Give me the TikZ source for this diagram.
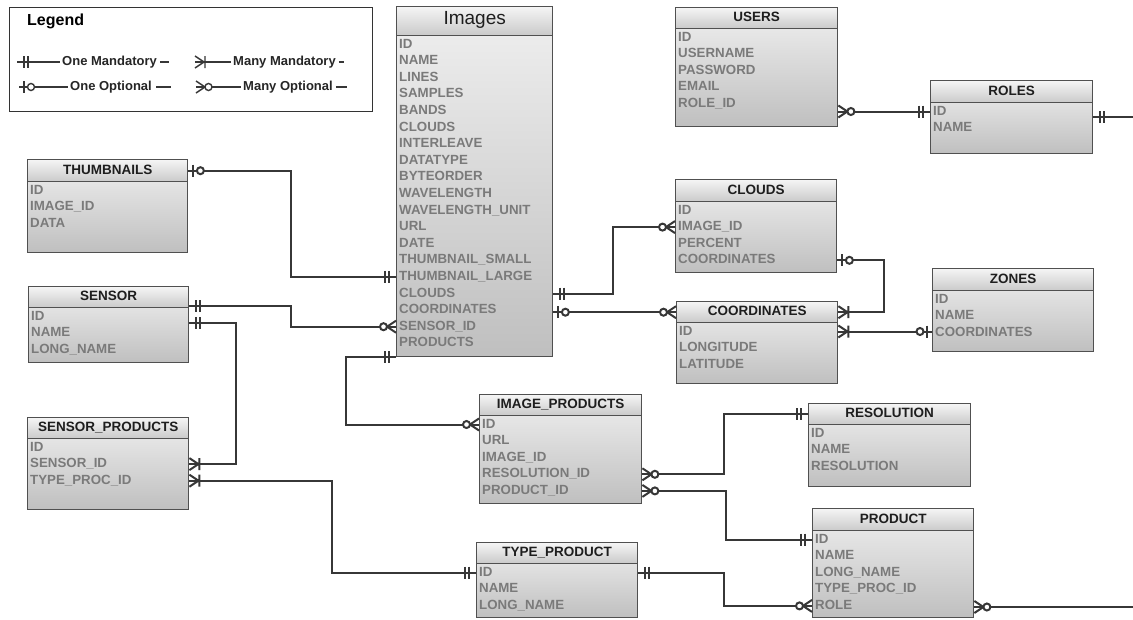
\documentclass[tikz,border=0pt]{standalone}
\usepackage{fontspec}
\setmainfont{Liberation Sans}
\usetikzlibrary{calc}
\definecolor{linec}{RGB}{55,55,55}
\definecolor{borderc}{RGB}{80,80,80}
\definecolor{fieldc}{RGB}{122,122,122}
\definecolor{headc}{RGB}{30,30,30}
\tikzset{
 conn/.style={draw=linec, line width=2pt},
 tbody/.style={draw=borderc, line width=1.4pt, top color=white!94!black, bottom color=white!75!black, inner sep=0pt},
 thead/.style={draw=borderc, line width=1.4pt, top color=white!96!black, bottom color=white!79!black, inner sep=0pt,
   font=\bfseries\fontsize{13.5}{13.5}\selectfont, text=headc, text height=9.7pt, text depth=2.5pt},
 field/.style={anchor=west, inner sep=0pt, font=\bfseries\fontsize{13.3}{13.3}\selectfont, text=fieldc,
   text height=9.6pt, text depth=2.5pt},
 legtext/.style={anchor=west, inner sep=0pt, font=\bfseries\fontsize{13}{13}\selectfont, text=black!85,
   text height=9.5pt, text depth=2.5pt},
 onemand/.pic={\draw[conn] (7,-6)--(7,6) (11,-6)--(11,6);},
 oneopt/.pic={\draw[conn] (5,-6)--(5,6); \draw[conn, fill=white] (12,0) circle (3.5);},
 manymand/.pic={\draw[conn] (0,-6)--(9,0)--(0,6) (10,-6)--(10,6);},
 manyopt/.pic={\draw[conn] (0,-6)--(9,0)--(0,6); \draw[conn, fill=white] (12.5,0) circle (3.5);},
}
% #1 name, #2 x, #3 y, #4 width, #5 header height, #6 total height, #7 title, #8 fields
\newcommand\ertab[8]{%
 \node[tbody, minimum width=#4pt, minimum height=#6pt, anchor=north west] (#1) at (#2,#3) {};
 \node[thead, minimum width=#4pt, minimum height=#5pt, anchor=north west] (#1-h) at (#1.north west) {#7};
 \foreach \f [count=\i] in {#8} {
   \pgfmathsetmacro\yy{#5+9.5+16.6*(\i-1)}
   \node[field] (#1-\i) at ($(#1.north west)+(3,\yy)$) {\f};
 }
}
\begin{document}
\begin{tikzpicture}[x=1pt,y=-1pt]
\useasboundingbox[fill=white] (0,0) rectangle (1133,619);

% Legend
\node[draw=black!80, line width=1.2pt, fill=white, minimum width=363pt, minimum height=104pt, anchor=north west, inner sep=0pt] (legend) at (9,7) {};
\node[anchor=west, inner sep=0pt, font=\bfseries\fontsize{16}{16}\selectfont] (legtitle) at (27,21) {Legend};
\node[legtext] (lg1) at (62,62) {One Mandatory};
\node[legtext] (lg2) at (233,62) {Many Mandatory};
\node[legtext] (lg3) at (70,87) {One Optional};
\node[legtext] (lg4) at (243,87) {Many Optional};
\coordinate (ls1) at (17,62);
\coordinate (ls2) at (195,62);
\coordinate (ls3) at (19,87);
\coordinate (ls4) at (196,87);
\begin{scope}[conn/.append style={line width=1.4pt}]
\draw[conn] (ls1) -- ([xshift=-2pt]lg1.west);
\draw[conn] (ls2) -- ([xshift=-2pt]lg2.west);
\draw[conn] (ls3) -- ([xshift=-2pt]lg3.west);
\draw[conn] (ls4) -- ([xshift=-2pt]lg4.west);
\draw[conn] ([xshift=3pt]lg1.east) -- ++(9,0);
\draw[conn] ([xshift=3pt]lg2.east) -- ++(5,0);
\draw[conn] ([xshift=4pt]lg3.east) -- ++(15,0);
\draw[conn] ([xshift=3pt]lg4.east) -- ++(11,0);
\pic at (ls1) {onemand};
\pic at (ls2) {manymand};
\pic at (ls3) {oneopt};
\pic at (ls4) {manyopt};
\end{scope}

% Tables
\ertab{images}{396}{6}{156}{29}{350}{{\mdseries\fontsize{19}{19}\selectfont Images}}{ID,NAME,LINES,SAMPLES,BANDS,CLOUDS,INTERLEAVE,DATATYPE,BYTEORDER,WAVELENGTH,WAVELENGTH\_UNIT,URL,DATE,THUMBNAIL\_SMALL,THUMBNAIL\_LARGE,CLOUDS,COORDINATES,SENSOR\_ID,PRODUCTS}
\ertab{users}{675}{7}{162}{21}{119}{USERS}{ID,USERNAME,PASSWORD,EMAIL,ROLE\_ID}
\ertab{roles}{930}{80}{162}{22}{73}{ROLES}{ID,NAME}
\ertab{thumbnails}{27}{159}{160}{22}{93}{THUMBNAILS}{ID,IMAGE\_ID,DATA}
\ertab{sensor}{28}{286}{160}{21}{76}{SENSOR}{ID,NAME,LONG\_NAME}
\ertab{sp}{27}{417}{161}{21}{92}{SENSOR\_PRODUCTS}{ID,SENSOR\_ID,TYPE\_PROC\_ID}
\ertab{clouds}{675}{179}{161}{22}{93}{CLOUDS}{ID,IMAGE\_ID,PERCENT,COORDINATES}
\ertab{coords}{676}{301}{161}{21}{82}{COORDINATES}{ID,LONGITUDE,LATITUDE}
\ertab{zones}{932}{268}{161}{22}{83}{ZONES}{ID,NAME,COORDINATES}
\ertab{ip}{479}{394}{162}{21}{109}{IMAGE\_PRODUCTS}{ID,URL,IMAGE\_ID,RESOLUTION\_ID,PRODUCT\_ID}
\ertab{tp}{476}{542}{161}{21}{75}{TYPE\_PRODUCT}{ID,NAME,LONG\_NAME}
\ertab{resolution}{808}{403}{162}{21}{83}{RESOLUTION}{ID,NAME,RESOLUTION}
\ertab{product}{812}{508}{161}{22}{109}{PRODUCT}{ID,NAME,LONG\_NAME,TYPE\_PROC\_ID,ROLE}

% Connectors
\coordinate (rolesout) at (1133,117);
\coordinate (prodout) at (1133,607);
\coordinate (s1) at ([yshift=-20pt]sensor.north east);
\coordinate (s2) at ([yshift=-37pt]sensor.north east);

\draw[conn] (users.east |- roles-1) -- (roles.west |- roles-1);
\draw[conn] (roles.east |- rolesout) -- (rolesout);
\draw[conn] (thumbnails-h.east) -- ++(103,0) |- (images.west |- images-15);
\draw[conn] (s1) -- ++(102,0) |- (images.west |- images-18);
\draw[conn] (s2) -- ++(47,0) |- (sp.east |- sp-2);
\draw[conn] (images.south west) -- ++(-50,0) |- (ip.west |- ip-1);
\draw[conn] (sp.east |- sp-3) -- ++(143,0) |- (tp.west |- tp-1);
\draw[conn] (images.east |- images-16) -- ++(60,0) |- (clouds.west |- clouds-2);
\draw[conn] (images.east |- coords-h) -- (coords-h.west);
\draw[conn] (clouds.east |- clouds-4) -- ++(47,0) |- (coords-h.east);
\draw[conn] (coords.east |- coords-1) -- (zones.west |- coords-1);
\draw[conn] (ip.east |- ip-4) -- ++(82,0) |- (resolution-h.west);
\draw[conn] (ip.east |- ip-5) -- ++(84,0) |- (product.west |- product-1);
\draw[conn] (tp.east |- tp-1) -- ++(86,0) |- (product.west |- product-5);
\draw[conn] (product.east |- prodout) -- (prodout);

% End symbols
\pic at (users.east |- roles-1) {manyopt};
\pic[xscale=-1] at (roles.west |- roles-1) {onemand};
\pic at (roles.east |- rolesout) {onemand};
\pic at (thumbnails-h.east) {oneopt};
\pic[xscale=-1] at (images.west |- images-15) {onemand};
\pic at (s1) {onemand};
\pic[xscale=-1] at (images.west |- images-18) {manyopt};
\pic at (s2) {onemand};
\pic at (sp.east |- sp-2) {manymand};
\pic[xscale=-1] at (images.south west) {onemand};
\pic[xscale=-1] at (ip.west |- ip-1) {manyopt};
\pic at (sp.east |- sp-3) {manymand};
\pic[xscale=-1] at (tp.west |- tp-1) {onemand};
\pic at (images.east |- images-16) {onemand};
\pic[xscale=-1] at (clouds.west |- clouds-2) {manyopt};
\pic at (images.east |- coords-h) {oneopt};
\pic[xscale=-1] at (coords-h.west) {manyopt};
\pic at (clouds.east |- clouds-4) {oneopt};
\pic at (coords-h.east) {manymand};
\pic at (coords.east |- coords-1) {manymand};
\pic[xscale=-1] at (zones.west |- coords-1) {oneopt};
\pic at (ip.east |- ip-4) {manyopt};
\pic[xscale=-1] at (resolution-h.west) {onemand};
\pic at (ip.east |- ip-5) {manyopt};
\pic[xscale=-1] at (product.west |- product-1) {onemand};
\pic at (tp.east |- tp-1) {onemand};
\pic[xscale=-1] at (product.west |- product-5) {manyopt};
\pic at (product.east |- prodout) {manyopt};
\end{tikzpicture}
\end{document}
